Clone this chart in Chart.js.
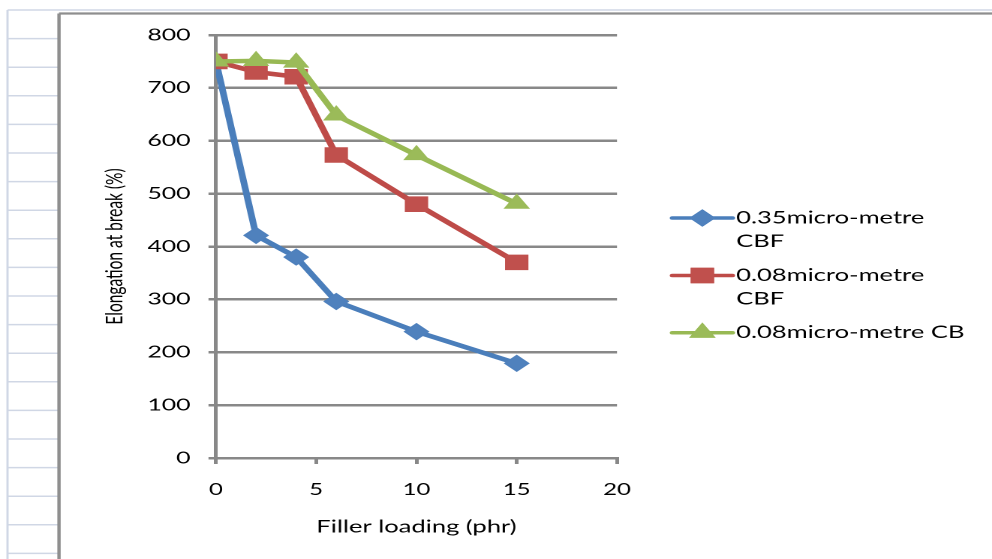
<!DOCTYPE html>
<html>
<head>
<meta charset="utf-8">
<script src="https://cdn.jsdelivr.net/npm/chart.js@4/dist/chart.umd.min.js"></script>
<style>
  html, body { margin:0; padding:0; background:#fff; overflow:hidden; }
  /* the original picture was stretched sideways by ~1.5, so draw narrow and stretch */
  #wrap { width:661px; height:559px; transform:scaleX(1.5008); transform-origin:0 0; }
</style>
</head>
<body>
<div id="wrap"><canvas id="chart" width="661" height="559"></canvas></div>
<script>
/* ── data ── */
var FILLER = [0, 2, 4, 6, 10, 15];
var CBF_035 = [750, 421, 380, 296, 239, 179];
var CBF_008 = [750, 730, 721, 573, 480, 370];
var CB_008  = [750, 751, 748, 648, 573, 481];
var SERIES_NAMES = ['0.35micro-metre CBF', '0.08micro-metre CBF', '0.08micro-metre CB'];
var X_TICKS = [0, 5, 10, 15, 20];
var Y_TICKS = [0, 100, 200, 300, 400, 500, 600, 700, 800];

var FONT = 'Lato, "Open Sans", sans-serif';
var GRID = '#888888';

function pts(ys) { return FILLER.map(function(x, i) { return { x:x, y:ys[i] }; }); }

function ds(name, ys, line, fill, style, r, order) {
  return { label:name, data:pts(ys), borderColor:line, backgroundColor:fill, borderWidth:4.5,
    pointStyle:style, pointRadius:r, pointHoverRadius:r, pointBackgroundColor:fill, pointBorderColor:fill,
    pointBorderWidth:1, tension:0, order:order };
}

/* spreadsheet cells + chart frame behind everything */
var sheetBg = {
  id:'sheetBg',
  beforeDraw: function(chart) {
    var c = chart.ctx, W = chart.width, H = chart.height;
    c.save();
    c.strokeStyle = '#D0D7E5'; c.lineWidth = 1.5;
    c.beginPath();
    c.moveTo(5, 10); c.lineTo(W, 10);
    c.moveTo(5, 10); c.lineTo(5, H);
    for (var y = 38.6; y < H; y += 28.6) { c.moveTo(5, y); c.lineTo(39.3, y); }
    c.stroke();
    c.strokeStyle = '#8E8E8E'; c.lineWidth = 2.2;
    c.beginPath();
    c.moveTo(39.3, 13.5); c.lineTo(W, 13.5);
    c.moveTo(39.3, 13.5); c.lineTo(39.3, H);
    c.stroke();
    c.restore();
  }
};

/* Excel-style legend on the right, wrapped text */
var sideLegend = {
  id:'sideLegend',
  afterDraw: function(chart) {
    var c = chart.ctx;
    var rowsY = [218, 275.5, 332.7];
    var maxW = 154;
    c.save();
    c.font = '17px ' + FONT;
    c.textBaseline = 'middle';
    c.fillStyle = '#000';
    [0, 1, 2].forEach(function(k) {
      var d = chart.data.datasets[k], y = rowsY[k];
      c.strokeStyle = d.borderColor; c.lineWidth = 3.5; c.lineCap = 'round';
      c.beginPath(); c.moveTo(448, y); c.lineTo(488, y); c.stroke();
      c.fillStyle = d.pointBackgroundColor; c.strokeStyle = d.pointBorderColor; c.lineWidth = 1;
      Chart.helpers.drawPoint(c, { pointStyle:d.pointStyle, radius:d.pointRadius, rotation:0, borderWidth:1 }, 468, y);
      c.fill(); c.stroke();
      // wrap words
      var words = d.label.split(' '), lines = [], cur = '';
      words.forEach(function(w) {
        var t = cur ? cur + ' ' + w : w;
        if (cur && c.measureText(t).width > maxW) { lines.push(cur); cur = w; } else cur = t;
      });
      lines.push(cur);
      c.fillStyle = '#000';
      lines.forEach(function(s, i) { c.fillText(s, 490.5, y + i * 23.5); });
    });
    c.restore();
  }
};

new Chart(document.getElementById('chart').getContext('2d'), {
  type:'line',
  data:{
    datasets:[
      ds(SERIES_NAMES[0], CBF_035, '#4A7EBB', '#4F81BD', 'rectRot', 8, 3),
      ds(SERIES_NAMES[1], CBF_008, '#BE4B48', '#C0504D', 'rect', 10.3, 2),
      ds(SERIES_NAMES[2], CB_008,  '#98B954', '#9BBB59', 'triangle', 9.2, 1)
    ]
  },
  options:{
    responsive:false,
    animation:false,
    devicePixelRatio:2,
    layout:{ padding:{ left:0, top:35, right:249.9, bottom:0 } },
    plugins:{ legend:{ display:false }, tooltip:{ enabled:false } },
    scales:{
      x:{
        type:'linear', min:0, max:20,
        afterBuildTicks:function(s) { s.ticks = X_TICKS.map(function(v) { return { value:v }; }); },
        afterFit:function(s) { s.height = 101; },
        grid:{ drawOnChartArea:false, drawTicks:true, tickLength:6, color:GRID, lineWidth:2.5 },
        border:{ display:true, color:GRID, width:2.5 },
        ticks:{ font:{ family:FONT, size:16 }, color:'#000', padding:16, maxRotation:0 },
        title:{ display:true, text:'Filler loading (phr)', font:{ family:FONT, size:17 }, color:'#000', padding:{ top:0, bottom:22 } }
      },
      y:{
        type:'linear', min:0, max:800,
        afterBuildTicks:function(s) { s.ticks = Y_TICKS.map(function(v) { return { value:v }; }); },
        afterFit:function(s) { s.width = 143.9; },
        grid:{ drawTicks:true, tickLength:5, color:GRID, lineWidth:2.5 },
        border:{ display:true, color:GRID, width:2.5 },
        ticks:{ font:{ family:FONT, size:16.5 }, color:'#000', padding:12 },
        title:{ display:true, text:'Elongation at break (%)', font:{ family:FONT, size:15.5 }, color:'#000', padding:{ top:67, bottom:0 } }
      }
    }
  },
  plugins:[sheetBg, sideLegend]
});
</script>
</body>
</html>
